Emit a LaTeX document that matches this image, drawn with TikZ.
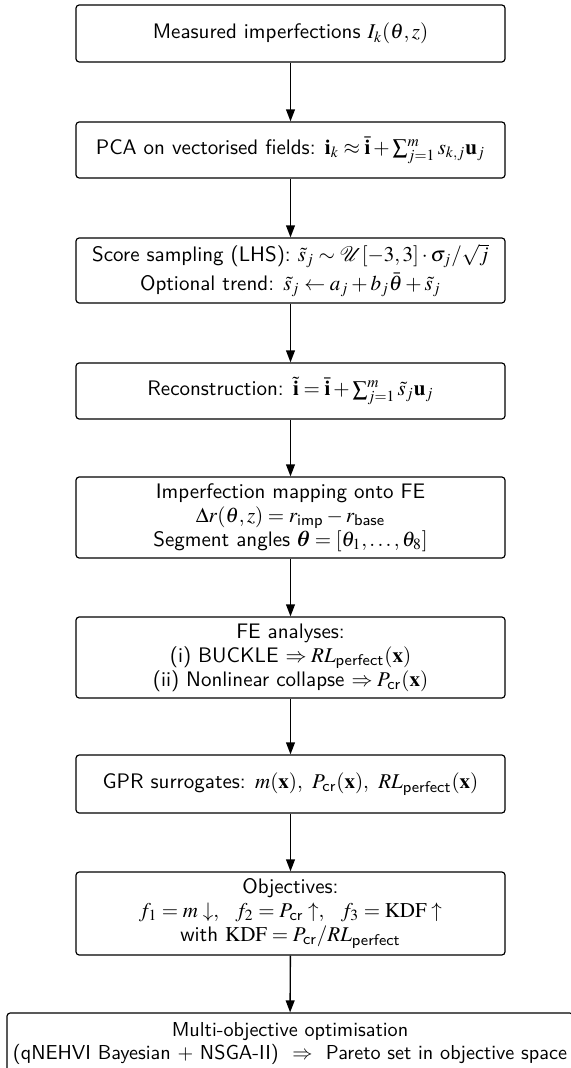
\documentclass[tikz,border=0pt]{standalone}
\usepackage{amsmath,amssymb,bm}
\usepackage{mathptmx}
\usetikzlibrary{arrows.meta}
\newcommand{\sub}[1]{\textsf{#1}}
\begin{document}
\begin{tikzpicture}[x=0.5pt,y=-0.5pt,
  stagebox/.style={draw, line width=0.6pt, rounded corners=1.6pt, minimum width=214.5pt,
    align=center, inner sep=0pt, font=\sffamily\fontsize{10.5}{12}\selectfont},
  flow/.style={-{Triangle[length=6pt,width=4.4pt]}, line width=0.7pt}]
\clip (0,0) rectangle (571,1068);
\node[stagebox, minimum height=28.5pt] (b1) at (290.5,33.5) {Measured imperfections $I_k(\theta,z)$};
\node[stagebox, minimum height=28pt] (b2) at (290.5,150) {PCA on vectorised fields: $\mathbf{i}_k \approx \bar{\mathbf{i}} + \sum_{j=1}^{m} s_{k,j}\mathbf{u}_j$};
\node[stagebox, minimum height=32.5pt] (b3) at (290.5,270.5) {Score sampling (LHS): $\tilde{s}_j \sim \mathcal{U}[-3,3]\cdot\sigma_j/\sqrt{j}$\\[1.5pt] Optional trend: $\tilde{s}_j \leftarrow a_j + b_j\bar{\theta} + \tilde{s}_j$};
\node[stagebox, minimum height=28pt] (b4) at (290.5,391) {Reconstruction: $\tilde{\mathbf{i}} = \bar{\mathbf{i}} + \sum_{j=1}^{m} \tilde{s}_j\mathbf{u}_j$};
\node[stagebox, minimum height=40.5pt] (b5) at (290.5,517.5) {Imperfection mapping onto FE\\ $\Delta r(\theta,z) = r_{\sub{imp}} - r_{\sub{base}}$\\ Segment angles $\bm{\theta} = [\theta_1,\ldots,\theta_8]$};
\node[stagebox, minimum height=40.5pt] (b6) at (290.5,657.5) {FE analyses:\\ (i) BUCKLE $\Rightarrow RL_{\sub{perfect}}(\mathbf{x})$\\ (ii) Nonlinear collapse $\Rightarrow P_{\sub{cr}}(\mathbf{x})$};
\node[stagebox, minimum height=29pt] (b7) at (290.5,784) {GPR surrogates: $m(\mathbf{x}),\ P_{\sub{cr}}(\mathbf{x}),\ RL_{\sub{perfect}}(\mathbf{x})$};
\node[stagebox, minimum height=41.5pt] (b8) at (290.5,913.5) {Objectives:\\ $f_1 = m\downarrow,\ \ f_2 = P_{\sub{cr}}\uparrow,\ \ f_3 = \mathrm{KDF}\uparrow$\\ with $\mathrm{KDF} = P_{\sub{cr}}/RL_{\sub{perfect}}$};
\node[stagebox, minimum width=283pt, minimum height=30.5pt, font=\sffamily\fontsize{10.1}{11.5}\selectfont] (b9) at (290,1043.5) {Multi-objective optimisation\\ (qNEHVI Bayesian $+$ NSGA-II)\ \ $\Rightarrow$\ \ Pareto set in objective space};
\draw[flow] (b1) -- (b2);
\draw[flow] (b2) -- (b3);
\draw[flow] (b3) -- (b4);
\draw[flow] (b4) -- (b5);
\draw[flow] (b5) -- (b6);
\draw[flow] (b6) -- (b7);
\draw[flow] (b7) -- (b8);
\draw[flow] (b8) -- (b9);
\end{tikzpicture}
\end{document}
